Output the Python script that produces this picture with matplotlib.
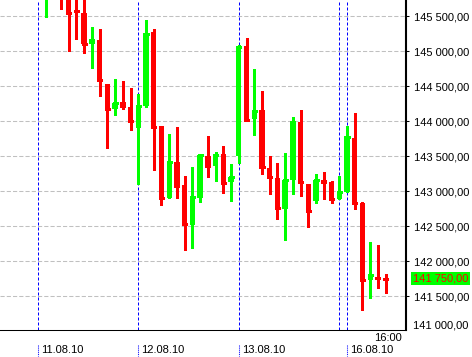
import numpy as np
import matplotlib
matplotlib.use('Agg')
import matplotlib.pyplot as plt

plt.rcParams['font.family'] = ['Liberation Sans', 'DejaVu Sans']

# hourly bars, oldest first (first few are partly above the visible range)
opens = [145780, 145900, 145950, 145780, 145575, 145545, 145110, 145160, 144535, 144180,
         144275, 144205, 143910, 144220, 145275, 143935, 142910, 143420, 143090, 142525,
         142910, 143505, 143365, 143535, 143135, 143505, 145080, 144035, 144160, 143335,
         143190, 142745, 143160, 143995, 143105, 142860, 143160, 143135, 142890, 142990,
         143760, 142835, 141735, 141775, 141760]
highs = [146000, 146050, 146000, 145850, 145800, 145760, 145345, 145320, 144535, 144605,
         144575, 144480, 144395, 145445, 145320, 143935, 143815, 143920, 143220, 143345,
         143535, 143790, 143560, 143645, 143395, 145085, 145190, 144745, 144435, 143505,
         143405, 143545, 144060, 144160, 143105, 143245, 143275, 143145, 143220, 143935,
         144120, 142845, 142275, 142235, 141820]
lows = [145486, 145760, 145609, 145005, 145180, 144980, 144765, 144365, 143625, 144095,
        144180, 143880, 143100, 144210, 143305, 142805, 142910, 142910, 142160, 142195,
        142850, 143210, 143145, 142980, 142865, 143410, 144005, 143805, 143245, 142965,
        142605, 142305, 142965, 142935, 142485, 142835, 142890, 142835, 142890, 142990,
        142745, 141305, 141475, 141620, 141545]
closes = [145950, 145820, 145780, 145550, 145570, 145110, 145155, 144595, 144180, 144260,
          144225, 144010, 144220, 145245, 143925, 142910, 143420, 143080, 142535, 142920,
          143525, 143365, 143520, 143125, 143205, 145065, 144020, 144145, 143350, 143210,
          142765, 143160, 143995, 143135, 142720, 143160, 143135, 142890, 142990, 143775,
          142835, 141735, 141805, 141760, 141750]

# day separators (bar index where the day starts) and their labels
day_start = [-1, 12, 25, 38, 39]
day_labels = ['11.08.10', '12.08.10', '13.08.10', '', '16.08.10']
last_time = '16:00'
price_ticks = [141500, 142000, 142500, 143000, 143500, 144000, 144500, 145000, 145500]


def fmt(v):
    return f"{v:,.2f}".replace(',', ' ').replace('.', ',')


o = np.array(opens)
h = np.array(highs)
l = np.array(lows)
c = np.array(closes)
x = np.arange(len(o))
colors = np.where(c > o, '#00ff00', '#ff0000')

fig = plt.figure(figsize=(4.72, 3.57), dpi=100)
ax = fig.add_axes([0, 26.7 / 357, 406 / 472, 330.3 / 357])
xt = ax.get_xaxis_transform()

ax.set_yticks(price_ticks)
ax.yaxis.grid(True, color='#c0c0c0', ls=(0, (4, 2)), lw=0.75, zorder=0)
ax.set_axisbelow(True)

ax.vlines(day_start, 0, 1, transform=xt, colors='#0000ff', lw=0.72,
          linestyles=[(0, (3, 2))], zorder=1)

ax.vlines(x, l, h, colors=colors, lw=0.75, zorder=3, antialiased=False)
ax.hlines(c, x - 0.33, x + 0.33, colors=colors, lw=0.75, zorder=4, antialiased=False)
ax.bar(x, np.abs(c - o), bottom=np.minimum(o, c), width=0.7, color=colors,
       lw=0, zorder=4, antialiased=False)

ax.set_xlim(-5.89, 46.63)
ax.set_ylim(141014, 145733)

for s in ['top', 'left']:
    ax.spines[s].set_visible(False)
ax.spines['right'].set_linewidth(1.5)
ax.spines['bottom'].set_linewidth(0.75)

ax.set_xticks([])
ax.yaxis.tick_right()
ax.tick_params(axis='y', length=2.5, width=0.75, pad=3, labelsize=8)
ax.set_yticklabels([fmt(v) for v in price_ticks])

ax.annotate(fmt(141000), xy=(1, 0.0145), xycoords='axes fraction', xytext=(6.7, 0),
            textcoords='offset pixels', va='center', fontsize=8)
ax.annotate(fmt(c[-1]), xy=(1, c[-1]), xycoords=ax.get_yaxis_transform(), xytext=(6.7, 0),
            textcoords='offset pixels', va='center', fontsize=8, color='#ff0000',
            bbox=dict(boxstyle='square,pad=0.15', fc='#00ff00', ec='none'))

for s, lab in zip(day_start, day_labels):
    if not lab:
        continue
    ax.plot([s, s], [-0.0445, -0.079], transform=xt, clip_on=False, color='#0000ff',
            lw=0.75, ls=(0, (1, 1)))
    ax.annotate(lab, xy=(s, -0.0596), xycoords=xt, xytext=(3, 0), textcoords='offset pixels',
                va='center', ha='left', fontsize=8)
ax.annotate(last_time, xy=(x[-1], -0.0233), xycoords=xt, xytext=(2, 0),
            textcoords='offset pixels', va='center', ha='center', fontsize=8)

fig.savefig('out.png', dpi=100)
